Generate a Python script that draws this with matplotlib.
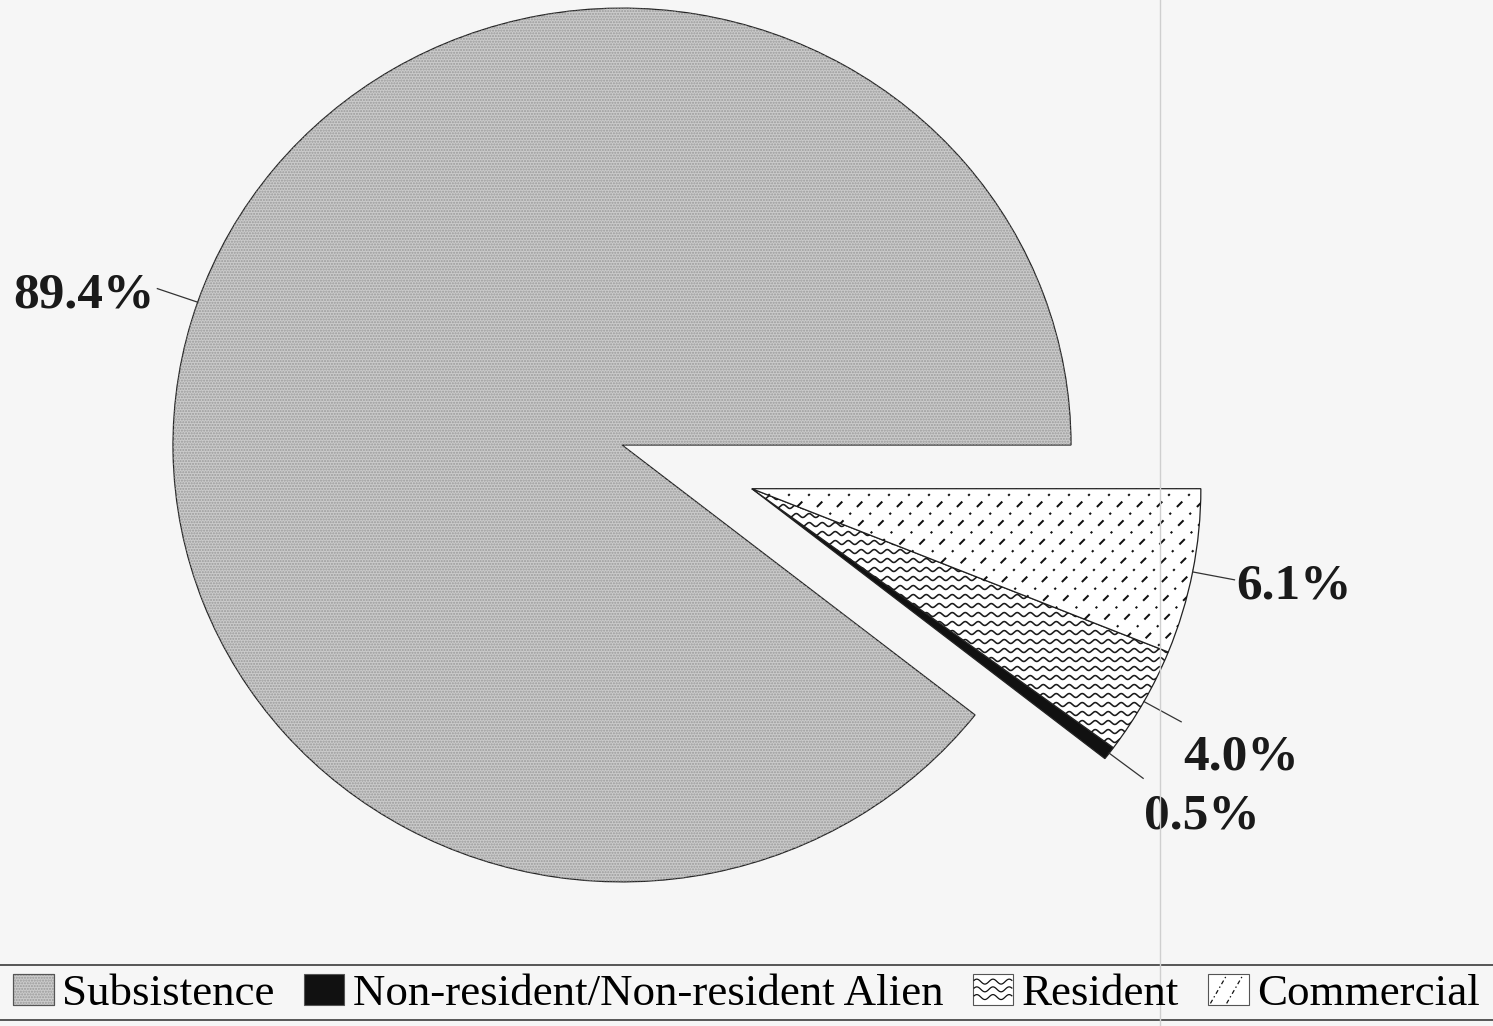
import numpy as np
import matplotlib.pyplot as plt
from matplotlib.patches import Rectangle, Wedge
from matplotlib.lines import Line2D
from matplotlib.legend_handler import HandlerBase

plt.rcParams['font.family'] = ['Liberation Serif', 'DejaVu Serif']
plt.rcParams['hatch.linewidth'] = 1.0
plt.rcParams['lines.scale_dashes'] = False

# --- data ---
categories = ['Subsistence', 'Non-resident/Non-resident Alien', 'Resident', 'Commercial']
shares = [89.4, 0.5, 4.0, 6.1]
pct_labels = ['89.4%', '0.5%', '4.0%', '6.1%']

# --- layout (pixel-ish units; y squashed slightly) ---
W, H = 1493, 1026
ky = 0.973
cx, cy = 622, (H - 445) / ky
R = 449
explode = 0.306
bg = '#f6f6f6'
grey = '#cbcbcb'

fig = plt.figure(figsize=(W / 100, H / 100), dpi=100, facecolor=bg)
ax = fig.add_axes([0, 0, 1, 1])
ax.set_facecolor(bg)

wedges, _ = ax.pie(shares, startangle=0, counterclock=True, radius=R, center=(cx, cy),
                   colors=[grey, '#111111', 'white', 'white'],
                   wedgeprops=dict(edgecolor='#222222', linewidth=0.9))

# pull the three small slices out together as one block
small_from = wedges[1].theta1
mid = np.deg2rad((small_from + 360) / 2)
ox, oy = explode * R * np.cos(mid), explode * R * np.sin(mid)
for w in wedges[1:]:
    w.set_center((cx + ox, cy + oy))

ax.set_aspect('auto')
ax.set_xlim(0, W)
ax.set_ylim(0, H / ky)
ax.axis('off')

# fine dot texture on the big slice
dots = Wedge((cx, cy), R, wedges[0].theta1, wedges[0].theta2, facecolor='none',
             edgecolor='#9a9a9a', linewidth=0, hatch='......', zorder=wedges[0].get_zorder() + 0.1)
ax.add_patch(dots)

# wavy lines in the Resident slice
res = wedges[2]
rx, ry = res.center
xs = np.arange(rx - 5, rx + R + 5, 0.8)
for y0 in np.arange(ry - R * 0.7, ry + 5, 9.0 / ky):
    ln, = ax.plot(xs, y0 + 2.0 * np.sin(2 * np.pi * xs / 13.0), color='#1a1a1a', lw=1.15,
                  zorder=res.get_zorder() + 0.1)
    ln.set_clip_path(res)

# dash-dot diagonal lines in the Commercial slice
com = wedges[3]
mx, my = com.center
L = R * 1.2
for x0 in np.arange(mx - L, mx + R + 10, 20):
    ln, = ax.plot([x0, x0 + L], [my - R * 0.6, my - R * 0.6 + L / ky],
                  color='#111111', lw=1.45, linestyle=(0, (5.5, 6, 1.6, 6)),
                  zorder=com.get_zorder() + 0.1)
    ln.set_clip_path(com)

# percentage labels with short radial leaders
label_offsets = {0: (-3, 19, 'right'), 1: (1, 50, 'left'), 2: (2, 48, 'left'), 3: (2, 19, 'left')}
for i, w in enumerate(wedges):
    a = np.deg2rad((w.theta1 + w.theta2) / 2)
    wx, wy = w.center
    x_in, y_in = wx + R * np.cos(a), wy + R * np.sin(a)
    x_out, y_out = wx + 1.095 * R * np.cos(a), wy + 1.095 * R * np.sin(a)
    ax.plot([x_in, x_out], [y_in, y_out], color='#333333', lw=0.9)
    dx, dy, ha = label_offsets[i]
    ax.text(x_out + dx, y_out - dy / ky, pct_labels[i], ha=ha, va='baseline',
            fontsize=37, fontweight='bold', color='#1a1a1a')


class PatternHandler(HandlerBase):
    def __init__(self, kind):
        super().__init__()
        self.kind = kind

    def create_artists(self, legend, orig_handle, xdescent, ydescent, width, height, fontsize, trans):
        x0, y0 = -xdescent, -ydescent
        box = Rectangle((x0, y0), width, height, facecolor=orig_handle.get_facecolor(),
                        edgecolor='#555555', lw=0.8, transform=trans)
        arts = [box]
        if self.kind == 'wave':
            xx = np.linspace(x0 + 1, x0 + width - 1, 60)
            for f in (0.25, 0.5, 0.75):
                yy = y0 + f * height + 0.08 * height * np.sin(2 * np.pi * (xx - x0) / (width / 2.5))
                arts.append(Line2D(xx, yy, color='#111111', lw=0.9, transform=trans))
        elif self.kind == 'dash':
            for f in (0.05, 0.45):
                arts.append(Line2D([x0 + f * width, x0 + (f + 0.4) * width], [y0 + 1, y0 + height - 1],
                                   color='#111111', lw=0.9, linestyle=(0, (3, 2, 1, 2)), transform=trans))
        elif self.kind == 'dots':
            arts.append(Rectangle((x0, y0), width, height, facecolor='none', edgecolor='#9a9a9a',
                                  lw=0, hatch='......', transform=trans))
            arts.append(Rectangle((x0, y0), width, height, facecolor='none', edgecolor='#555555',
                                  lw=0.8, transform=trans))
        return arts


handles = [Rectangle((0, 0), 1, 1, facecolor=c) for c in [grey, '#111111', 'white', 'white']]
fig.legend(handles, categories, loc='center', bbox_to_anchor=(0.5, 1 - 994 / H), ncol=4,
           frameon=False, fontsize=32.4, handlelength=0.9, handleheight=0.68,
           handletextpad=0.18, columnspacing=0.66, borderaxespad=0, borderpad=0,
           handler_map={handles[0]: PatternHandler('dots'), handles[1]: PatternHandler('solid'),
                        handles[2]: PatternHandler('wave'), handles[3]: PatternHandler('dash')})

# legend box rules and the faint vertical page line
for yy in (1 - 965 / H, 1 - 1020 / H):
    fig.add_artist(Line2D([0, 1], [yy, yy], transform=fig.transFigure, color='#555555', lw=1.4))
fig.add_artist(Line2D([1160 / W, 1160 / W], [0, 1], transform=fig.transFigure, color='#cfcfcf', lw=1.0))

fig.savefig('out.png', dpi=100, facecolor=bg)
